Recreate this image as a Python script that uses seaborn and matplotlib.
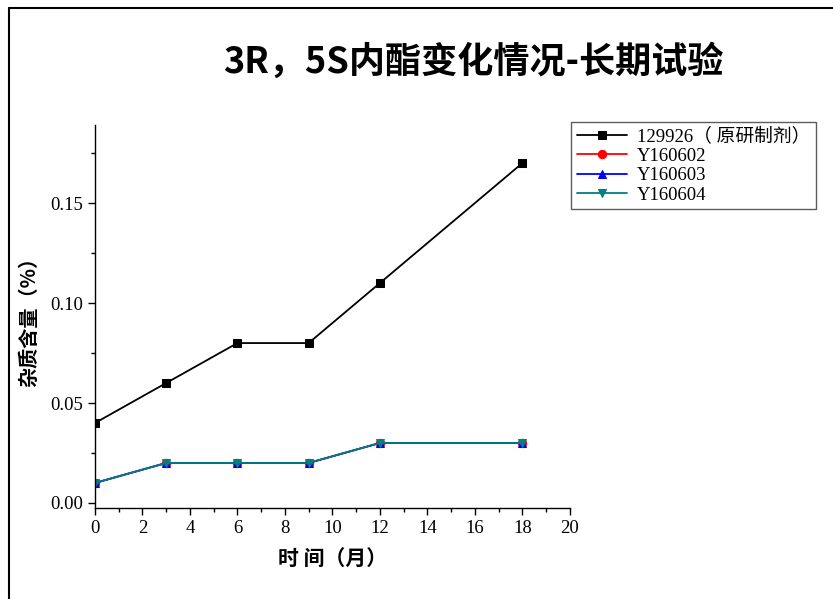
import matplotlib
matplotlib.use("Agg")
import matplotlib.pyplot as plt
import seaborn as sns
import pandas as pd
from matplotlib.ticker import MultipleLocator
from matplotlib.lines import Line2D

months = [0, 3, 6, 9, 12, 18]
s_129926 = [0.04, 0.06, 0.08, 0.08, 0.11, 0.17]
s_Y160602 = [0.01, 0.02, 0.02, 0.02, 0.03, 0.03]
s_Y160603 = [0.01, 0.02, 0.02, 0.02, 0.03, 0.03]
s_Y160604 = [0.01, 0.02, 0.02, 0.02, 0.03, 0.03]
names = ["129926（ 原研制剂）", "Y160602", "Y160603", "Y160604"]
colors = ["#000000", "#ff0000", "#0000ff", "#008080"]
markers = ["s", "o", "^", "v"]

sns.set_theme(style="white")
plt.rcParams['font.family'] = ['Liberation Serif', 'Noto Sans CJK SC']
plt.rcParams['text.color'] = 'black'
plt.rcParams['axes.labelcolor'] = 'black'
plt.rcParams['xtick.color'] = 'black'
plt.rcParams['ytick.color'] = 'black'

rows = []
for n, vals in zip(names, [s_129926, s_Y160602, s_Y160603, s_Y160604]):
    for m, v in zip(months, vals):
        rows.append({"month": m, "value": v, "series": n})
df = pd.DataFrame(rows)

fig = plt.figure(figsize=(8.33, 5.99), dpi=100)
ax = fig.add_axes([0.114, 0.152, 0.570, 0.639])

for n, c, mk in zip(names, colors, markers):
    d = df[df.series == n]
    sns.lineplot(data=d, x="month", y="value", ax=ax, color=c, marker=mk,
                 markersize=6, markeredgecolor=c, linewidth=1.3, label=n)

ax.set_xlim(0, 20)
ax.set_ylim(-0.0025, 0.189)
ax.xaxis.set_major_locator(MultipleLocator(2))
ax.xaxis.set_minor_locator(MultipleLocator(1))
ax.yaxis.set_minor_locator(MultipleLocator(0.025))
ax.set_yticks([0, 0.05, 0.10, 0.15])
ax.set_yticklabels(["0.00", "0.05", "0.10", "0.15"])
ax.tick_params(axis="both", which="major", direction="out", length=5, width=1,
               labelsize=13.5, colors="black", bottom=True, left=True)
ax.tick_params(axis="both", which="minor", direction="out", length=3, width=1,
               bottom=True, left=True)
for s in ["top", "right"]:
    ax.spines[s].set_visible(False)
for s in ["left", "bottom"]:
    ax.spines[s].set_color("black")
    ax.spines[s].set_linewidth(1.0)

ax.set_xlabel("时 间（月）", fontsize=15, fontweight="bold",
              family=["Noto Sans CJK SC"], labelpad=8, color="black")
ax.set_ylabel("杂质含量（%）", fontsize=14.5, fontweight="bold",
              family=["Noto Sans CJK SC"], labelpad=8, color="black")

leg = ax.legend(loc="upper left", frameon=True, fancybox=False, edgecolor="#333333",
                prop={"family": ["Liberation Serif", "Noto Sans CJK SC"], "size": 13.5},
                handlelength=2.7, borderpad=0.3, labelspacing=0.12, handletextpad=0.5,
                borderaxespad=0)
leg.get_frame().set_linewidth(1.0)
for t in leg.get_texts():
    t.set_color("black")
leg.set_bbox_to_anchor((571/833, (599-122)/599), transform=fig.transFigure)

fig.text(473/833, 1 - 62/599, "3R，5S内酯变化情况-长期试验", ha="center", va="center",
         fontsize=26, fontweight="bold", family=["Noto Sans CJK SC"], color="black")

# outer frame
fig.add_artist(Line2D([9/833, 9/833], [0, 1 - 8/599], transform=fig.transFigure, color="black", lw=1.5))
fig.add_artist(Line2D([9/833, 1], [1 - 8/599, 1 - 8/599], transform=fig.transFigure, color="black", lw=1.5))

fig.savefig("out.png", dpi=100)
